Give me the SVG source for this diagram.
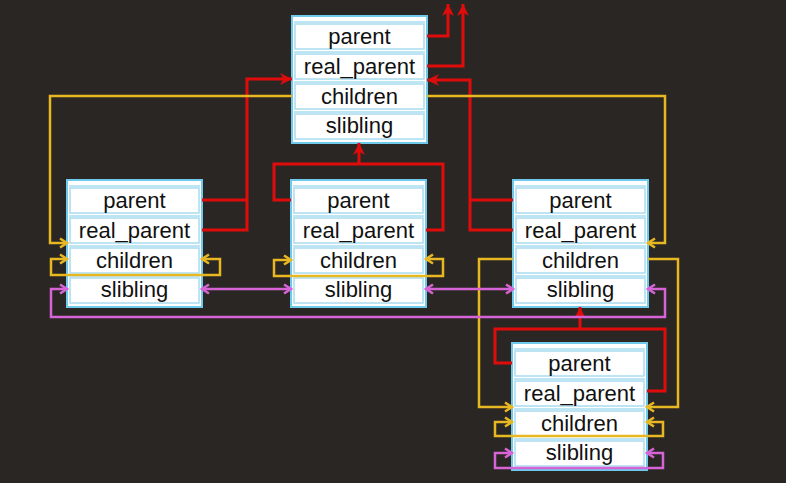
<svg xmlns="http://www.w3.org/2000/svg" width="786" height="483" viewBox="0 0 786 483">
<style>
.box{fill:#ffffff;stroke:#6ec9ea;stroke-width:2}
.row{fill:#ffffff;stroke:#a9dcf0;stroke-width:1.5}
.sep{stroke:#a9dcf0;stroke-width:1.5}
.lbl{font-family:"Liberation Sans",Arial,sans-serif;font-size:22px;fill:#111;text-anchor:middle}
.red{fill:none;stroke:#e00c0c;stroke-width:3}
.yel{fill:none;stroke:#e8b823;stroke-width:2.5}
.pnk{fill:none;stroke:#d764d7;stroke-width:2.5}
</style>
<defs>
<marker id="ar" markerUnits="userSpaceOnUse" markerWidth="14" markerHeight="14" viewBox="0 0 14 14" refX="13" refY="7" orient="auto-start-reverse"><path d="M1,1 L13,7 L1,13 L4.5,7 z" fill="#e00c0c"/></marker>
<marker id="ay" markerUnits="userSpaceOnUse" markerWidth="12" markerHeight="12" viewBox="0 0 12 12" refX="10" refY="6" orient="auto-start-reverse"><path d="M3,1.5 L10,6 L3,10.5" fill="none" stroke="#e8b823" stroke-width="2.5"/></marker>
<marker id="ap" markerUnits="userSpaceOnUse" markerWidth="12" markerHeight="12" viewBox="0 0 12 12" refX="10" refY="6" orient="auto-start-reverse"><path d="M3,1.5 L10,6 L3,10.5" fill="none" stroke="#d764d7" stroke-width="2.5"/></marker>
<g id="task">
<rect class="box" x="0" y="0" width="135" height="127"/>
<line class="sep" x1="2" y1="6" x2="133" y2="6"/>
<rect class="row" x="3" y="8" width="129" height="25"/>
<line class="sep" x1="2" y1="36" x2="133" y2="36"/>
<rect class="row" x="3" y="38" width="129" height="25"/>
<line class="sep" x1="2" y1="66" x2="133" y2="66"/>
<rect class="row" x="3" y="68" width="129" height="25"/>
<line class="sep" x1="2" y1="96" x2="133" y2="96"/>
<rect class="row" x="3" y="98" width="129" height="25"/>
<text class="lbl" x="67.5" y="28">parent</text>
<text class="lbl" x="67.5" y="58">real_parent</text>
<text class="lbl" x="67.5" y="88">children</text>
<text class="lbl" x="67.5" y="117">slibling</text>
</g>
</defs>
<rect width="786" height="483" fill="#2a2623"/>
<g id="node-top"><use href="#task" x="292" y="16"/></g>
<g id="node-left"><use href="#task" x="67" y="180"/></g>
<g id="node-mid"><use href="#task" x="291" y="180"/></g>
<g id="node-right"><use href="#task" x="513" y="180"/></g>
<g id="node-bottom"><use href="#task" x="512" y="343"/></g>
<g id="connectors">
<path class="red" d="M427,36 H448 V4" marker-end="url(#ar)"/>
<path class="red" d="M427,66 H463 V4" marker-end="url(#ar)"/>
<path class="red" d="M202,230 H247 V79 H292" marker-end="url(#ar)"/>
<path class="red" d="M202,200 H247"/>
<path class="red" d="M513,230 H470 V80 H427" marker-end="url(#ar)"/>
<path class="red" d="M513,200 H470"/>
<path class="red" d="M291,200 H274 V164 H443 V230 H426"/>
<path class="red" d="M359,164 V143" marker-end="url(#ar)"/>
<path class="red" d="M512,363 H495 V329 H665 V391 H647"/>
<path class="red" d="M580,329 V307" marker-end="url(#ar)"/>
<path class="yel" d="M292,96 H50 V243 H67" marker-end="url(#ay)"/>
<path class="yel" d="M427,96 H665 V243 H648" marker-end="url(#ay)"/>
<path class="yel" d="M202,259 H220 V275 H51 V259 H67" marker-start="url(#ay)" marker-end="url(#ay)"/>
<path class="yel" d="M426,259 H443 V276 H274 V260 H291" marker-start="url(#ay)" marker-end="url(#ay)"/>
<path class="yel" d="M513,259 H479 V407 H512" marker-end="url(#ay)"/>
<path class="yel" d="M648,259 H678 V407 H647" marker-end="url(#ay)"/>
<path class="yel" d="M647,422 H663 V436 H495 V422 H512" marker-start="url(#ay)" marker-end="url(#ay)"/>
<path class="pnk" d="M202,289 H291" marker-start="url(#ap)" marker-end="url(#ap)"/>
<path class="pnk" d="M426,289 H513" marker-start="url(#ap)" marker-end="url(#ap)"/>
<path class="pnk" d="M648,289 H665 V317 H51 V289 H67" marker-start="url(#ap)" marker-end="url(#ap)"/>
<path class="pnk" d="M647,453 H663 V468 H495 V453 H512" marker-start="url(#ap)" marker-end="url(#ap)"/>
</g>
</svg>
